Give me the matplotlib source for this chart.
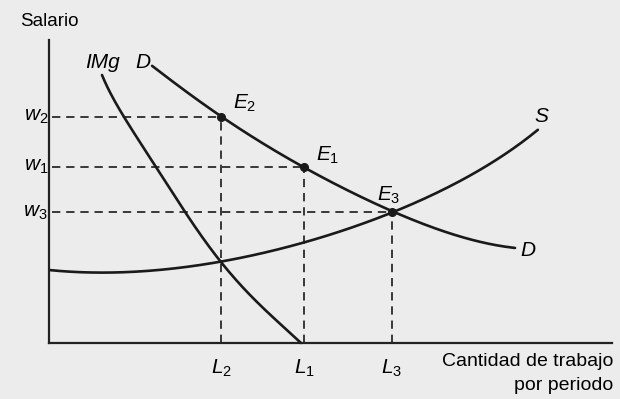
import numpy as np
import matplotlib
matplotlib.use("Agg")
import matplotlib.pyplot as plt

plt.rcParams['font.family'] = ['Liberation Sans', 'DejaVu Sans']
plt.rcParams['mathtext.fontset'] = 'custom'
plt.rcParams['mathtext.rm'] = 'Liberation Sans'
plt.rcParams['mathtext.it'] = 'Liberation Sans:italic'

# curves (x = labour, y = wage, arbitrary units)
d_x = [103, 136, 172, 213, 255, 301, 343, 401, 466]
d_y = [277, 253, 226, 200, 176, 152, 131, 110, 95]

img_x = [53, 75, 107, 136, 172, 211, 252]
img_y = [268, 226, 176, 131, 81, 38, 0]

s_x = [1, 26, 51, 101, 172, 211, 252, 301, 343, 391, 431, 461, 489]
s_y = [73, 71, 70, 73, 81, 89, 100, 115, 131, 151, 173, 193, 213]

# equilibrium points E2, E1, E3
pt_names = ["E_2", "E_1", "E_3"]
pt_x = [172, 255, 343]
pt_y = [226, 176, 131]
w_names = ["w_2", "w_1", "w_3"]
l_names = ["L_2", "L_1", "L_3"]


def smooth(xs, ys, n=200):
    xs = np.array(xs, float)
    ys = np.array(ys, float)
    t = np.concatenate([[0], np.cumsum(np.hypot(np.diff(xs), np.diff(ys)))])
    tt = np.linspace(0, t[-1], n)
    px = np.polyfit(t, xs, min(5, len(xs) - 1))
    py = np.polyfit(t, ys, min(5, len(ys) - 1))
    return np.polyval(px, tt), np.polyval(py, tt)


fig = plt.figure(figsize=(6.2, 3.99), dpi=100)
fig.patch.set_facecolor('#ececec')
ax = fig.add_axes([49 / 620, 56 / 399, 563 / 620, 303 / 399])
ax.set_facecolor('none')
ax.set_xlim(0, 563)
ax.set_ylim(0, 303)
for sp in ['top', 'right']:
    ax.spines[sp].set_visible(False)
for sp in ['left', 'bottom']:
    ax.spines[sp].set_color('#222222')
    ax.spines[sp].set_linewidth(1.6)
ax.set_xticks([])
ax.set_yticks([])

lc = '#1a1a1a'
for xs, ys in [(d_x, d_y), (img_x, img_y), (s_x, s_y)]:
    sx, sy = smooth(xs, ys)
    ax.plot(sx, sy, color=lc, lw=1.9, solid_capstyle='round', clip_on=False)

for name, wn, ln, x, y in zip(pt_names, w_names, l_names, pt_x, pt_y):
    ax.plot([3, x], [y, y], color=lc, lw=1.2, ls=(0, (5, 3.5)))
    ax.plot([x, x], [0, y], color=lc, lw=1.2, ls=(0, (5, 3.5)))
    ax.plot(x, y, 'o', color=lc, ms=5.5)
    ax.text(-1, y, "$" + wn + "$", ha='right', va='center', fontsize=15, clip_on=False)
    ax.text(x, -25, "$" + ln + "$", ha='center', va='center', fontsize=15, clip_on=False)

ax.text(pt_x[0] + 12, pt_y[0] + 14, "$E_2$", ha='left', va='center', fontsize=15)
ax.text(pt_x[1] + 12, pt_y[1] + 12, "$E_1$", ha='left', va='center', fontsize=15)
ax.text(pt_x[2] - 3, pt_y[2] + 17, "$E_3$", ha='center', va='center', fontsize=15)

ax.text(54, 280, "IMg", style='italic', ha='center', va='center', fontsize=15)
ax.text(94, 281, "D", style='italic', ha='center', va='center', fontsize=15)
ax.text(479, 92, "D", style='italic', ha='center', va='center', fontsize=15)
ax.text(492, 226, "S", style='italic', ha='center', va='center', fontsize=15)

ax.text(-29, 321, "Salario", ha='left', va='center', fontsize=13.5, clip_on=False)
ax.text(564, -18, "Cantidad de trabajo", ha='right', va='center', fontsize=14, clip_on=False)
ax.text(564, -42, "por periodo", ha='right', va='center', fontsize=14, clip_on=False)

fig.savefig("out.png", dpi=100, facecolor=fig.get_facecolor())
